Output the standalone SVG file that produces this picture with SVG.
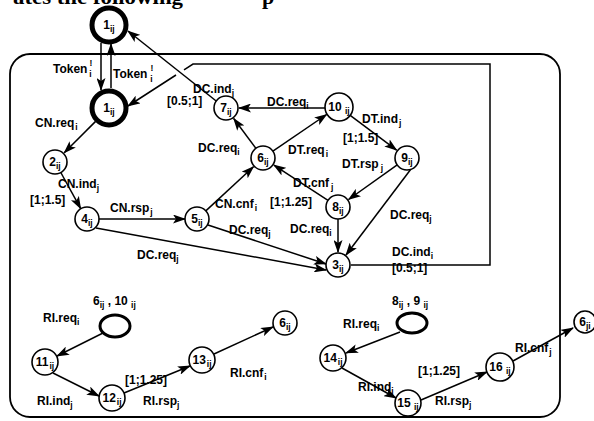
<svg xmlns="http://www.w3.org/2000/svg" width="594" height="421" viewBox="0 0 594 421">
<style>
text{font-family:"Liberation Sans",Arial,Helvetica,sans-serif;font-weight:bold;font-size:12px;fill:#000}
.s{font-size:8.5px}
.c{fill:#fff;stroke:#000;stroke-width:1.6}
.cb{fill:#fff;stroke:#000;stroke-width:5}
.ce{fill:#fff;stroke:#000;stroke-width:3}
.e{fill:none;stroke:#000;stroke-width:1.5;marker-end:url(#ah)}
.l{fill:none;stroke:#000;stroke-width:1.5}
.box{fill:none;stroke:#000;stroke-width:1.8}
.top{font-family:"Liberation Serif","Times New Roman",serif;font-size:22px}
</style>
<defs>
<marker id="ah" viewBox="0 0 13 9" refX="12" refY="4.5" markerWidth="13" markerHeight="9" markerUnits="userSpaceOnUse" orient="auto"><path d="M0,0 L13,4.5 L0,9 L3,4.5 z"/></marker>
</defs>
<text class="top" x="13" y="4" textLength="170" lengthAdjust="spacingAndGlyphs">ates the following</text>
<text class="top" x="262" y="4">p</text>
<rect class="box" x="10" y="54" width="550" height="363" rx="20"/>
<g id="edges">
<line class="e" x1="101" y1="43" x2="101" y2="90"/>
<line class="e" x1="111" y1="88" x2="111" y2="44"/>
<line class="e" x1="95.6" y1="121.4" x2="64.2" y2="152.8"/>
<line class="e" x1="60.8" y1="172.5" x2="80.7" y2="208.6"/>
<line class="e" x1="99" y1="219" x2="185" y2="219"/>
<line class="e" x1="96" y1="228" x2="326" y2="270"/>
<line class="e" x1="208" y1="225" x2="326" y2="264"/>
<line class="e" x1="205.8" y1="210.9" x2="253.5" y2="166.8"/>
<line class="e" x1="255.9" y1="148.4" x2="233.7" y2="118.5"/>
<line class="e" x1="272.9" y1="151.2" x2="326.6" y2="114.5"/>
<line class="e" x1="325" y1="108" x2="239" y2="108"/>
<line class="e" x1="350.2" y1="115.4" x2="396.6" y2="150.2"/>
<line class="e" x1="397.2" y1="164.9" x2="348.6" y2="199.5"/>
<line class="e" x1="411" y1="169" x2="346" y2="255"/>
<line class="e" x1="328" y1="200.4" x2="273.9" y2="165.1"/>
<line class="e" x1="338" y1="219" x2="338" y2="252"/>
<path class="e" d="M351,265 H490 V64 H193 L184,69.8 M176,75 L128,106"/>
<line class="e" x1="216.2" y1="101" x2="128" y2="31"/>
<line class="e" x1="103" y1="333" x2="57" y2="356"/>
<line class="e" x1="53" y1="373" x2="99" y2="396"/>
<line class="e" x1="124" y1="393" x2="190" y2="366"/>
<line class="e" x1="214" y1="354" x2="273" y2="327"/>
<line class="e" x1="400" y1="332" x2="346" y2="353"/>
<line class="e" x1="342" y1="368" x2="396" y2="398"/>
<line class="e" x1="421" y1="400" x2="487" y2="372"/>
<line class="e" x1="513" y1="361" x2="573" y2="328"/>
</g>
<g id="edge-labels">
<text x="53" y="73">Token<tspan class="s" dx="2" dy="-7">!</tspan><tspan class="s" dx="-3" dy="11">i</tspan></text>
<text x="113" y="78">Token<tspan class="s" dx="3" dy="-7">!</tspan><tspan class="s" dx="-3" dy="11">i</tspan></text>
<text x="35" y="127">CN.req<tspan class="s" dx="1" dy="3">i</tspan></text>
<text x="58" y="188">CN.ind<tspan class="s" dy="3">j</tspan></text>
<text x="30" y="204">[1;1.5]</text>
<text x="110" y="212">CN.rsp<tspan class="s" dx="1" dy="3">j</tspan></text>
<text x="137" y="259">DC.req<tspan class="s" dy="3">j</tspan></text>
<text x="215" y="208">CN.cnf<tspan class="s" dx="1" dy="3">i</tspan></text>
<text x="229" y="234">DC.req<tspan class="s" dy="3">j</tspan></text>
<text x="290" y="233">DC.req<tspan class="s" dy="3">i</tspan></text>
<text x="198" y="152">DC.req<tspan class="s" dy="3">i</tspan></text>
<text x="288" y="154">DT.req<tspan class="s" dx="1" dy="3">i</tspan></text>
<text x="267" y="106">DC.req<tspan class="s" dy="3">i</tspan></text>
<text x="193" y="93">DC.ind<tspan class="s" dy="3">j</tspan></text>
<text x="167" y="105">[0.5;1]</text>
<text x="362" y="123">DT.ind<tspan class="s" dx="1" dy="3">j</tspan></text>
<text x="343" y="142">[1;1.5]</text>
<text x="342" y="168">DT.rsp<tspan class="s" dx="2" dy="3">j</tspan></text>
<text x="293" y="187">DT.cnf<tspan class="s" dx="2" dy="3">j</tspan></text>
<text x="270" y="206">[1;1.25]</text>
<text x="390" y="219">DC.req<tspan class="s" dy="3">j</tspan></text>
<text x="392" y="256">DC.ind<tspan class="s" dy="3">i</tspan></text>
<text x="392" y="272">[0.5;1]</text>
<text x="93" y="305">6<tspan class="s" dy="3">ij</tspan><tspan dy="-3"> , 10 </tspan><tspan class="s" dy="3">ij</tspan></text>
<text x="43" y="322">RI.req<tspan class="s" dy="3">i</tspan></text>
<text x="37" y="405">RI.ind<tspan class="s" dy="3">j</tspan></text>
<text x="125" y="384">[1;1.25]</text>
<text x="143" y="405">RI.rsp<tspan class="s" dy="3">j</tspan></text>
<text x="230" y="377">RI.cnf<tspan class="s" dx="1" dy="3">i</tspan></text>
<text x="392" y="305">8<tspan class="s" dy="3">ij</tspan><tspan dy="-3"> , 9 </tspan><tspan class="s" dy="3">ij</tspan></text>
<text x="343" y="328">RI.req<tspan class="s" dy="3">i</tspan></text>
<text x="358" y="391">RI.ind<tspan class="s" dy="3">j</tspan></text>
<text x="418" y="375">[1;1.25]</text>
<text x="435" y="405">RI.rsp<tspan class="s" dy="3">j</tspan></text>
<text x="515" y="352">RI.cnf<tspan class="s" dx="1" dy="3">j</tspan></text>
</g>
<g id="n1a"><circle class="cb" cx="109" cy="25" r="17"/><text x="109" y="29" text-anchor="middle">1<tspan class="s" dy="3">ij</tspan></text></g>
<g id="n1b"><circle class="cb" cx="109" cy="108" r="17"/><text x="109" y="112" text-anchor="middle">1<tspan class="s" dy="3">ij</tspan></text></g>
<g id="n2"><circle class="c" cx="55" cy="162" r="12"/><text x="55" y="166" text-anchor="middle">2<tspan class="s" dy="3">ij</tspan></text></g>
<g id="n4"><circle class="c" cx="87" cy="219" r="12"/><text x="87" y="223" text-anchor="middle">4<tspan class="s" dy="3">ij</tspan></text></g>
<g id="n5"><circle class="c" cx="197" cy="219" r="12"/><text x="197" y="223" text-anchor="middle">5<tspan class="s" dy="3">ij</tspan></text></g>
<g id="n6"><circle class="c" cx="263" cy="158" r="12"/><text x="263" y="162" text-anchor="middle">6<tspan class="s" dy="3">ij</tspan></text></g>
<g id="n7"><circle class="c" cx="226" cy="108" r="12"/><text x="226" y="112" text-anchor="middle">7<tspan class="s" dy="3">ij</tspan></text></g>
<g id="n10"><circle class="c" cx="339" cy="107" r="14"/><text x="339" y="111" text-anchor="middle">10 <tspan class="s" dy="3">ij</tspan></text></g>
<g id="n9"><circle class="c" cx="407" cy="158" r="12"/><text x="407" y="162" text-anchor="middle">9<tspan class="s" dy="3">ij</tspan></text></g>
<g id="n8"><circle class="c" cx="338" cy="207" r="12"/><text x="338" y="211" text-anchor="middle">8<tspan class="s" dy="3">ij</tspan></text></g>
<g id="n3"><circle class="c" cx="338" cy="265" r="12"/><text x="338" y="269" text-anchor="middle">3<tspan class="s" dy="3">ij</tspan></text></g>
<g id="e1"><ellipse class="ce" cx="115" cy="326" rx="15" ry="11"/></g>
<g id="n11"><circle class="c" cx="45" cy="362" r="13"/><text x="45" y="366" text-anchor="middle">11<tspan class="s" dx="1" dy="3">ij</tspan></text></g>
<g id="n12"><circle class="c" cx="112" cy="398" r="13"/><text x="112" y="402" text-anchor="middle">12<tspan class="s" dx="1" dy="3">ij</tspan></text></g>
<g id="n13"><circle class="c" cx="202" cy="360" r="13"/><text x="202" y="364" text-anchor="middle">13<tspan class="s" dx="1" dy="3">ij</tspan></text></g>
<g id="n6b"><circle class="c" cx="285" cy="323" r="12"/><text x="285" y="327" text-anchor="middle">6<tspan class="s" dy="3">ij</tspan></text></g>
<g id="e2"><ellipse class="ce" cx="412" cy="323" rx="15" ry="10"/></g>
<g id="n14"><circle class="c" cx="333" cy="358" r="13"/><text x="333" y="362" text-anchor="middle">14<tspan class="s" dx="1" dy="3">ij</tspan></text></g>
<g id="n15"><circle class="c" cx="408" cy="403" r="13"/><text x="408" y="407" text-anchor="middle">15 <tspan class="s" dy="3">ij</tspan></text></g>
<g id="n16"><circle class="c" cx="500" cy="367" r="14"/><text x="500" y="371" text-anchor="middle">16 <tspan class="s" dy="3">ij</tspan></text></g>
<g id="n6c"><circle class="c" cx="585" cy="322" r="11"/><text x="585" y="326" text-anchor="middle">6<tspan class="s" dy="3">ji</tspan></text></g>
</svg>
